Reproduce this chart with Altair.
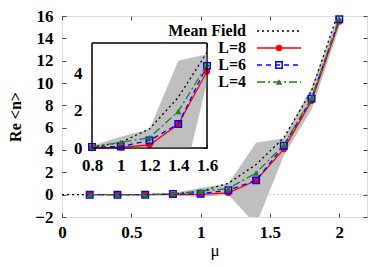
import altair as alt
import pandas as pd

# ---------------- data ----------------
mu = [0.2, 0.4, 0.6, 0.8, 1.0, 1.2, 1.4, 1.6, 1.8, 2.0]
mf_mu = [0.0, 0.2, 0.4, 0.6, 0.8, 1.0, 1.2, 1.4, 1.6, 1.8, 2.0]
mf_val = [0.0, 0.0, 0.0, 0.01, 0.05, 0.3, 1.02, 2.7, 5.1, 9.3, 16.6]
l8_val = [0.0, 0.0, 0.0, 0.0, 0.03, 0.16, 1.27, 4.08, 8.4, 15.5]
l6_val = [0.0, 0.0, 0.0, 0.05, 0.08, 0.4, 1.28, 4.38, 8.6, 15.7]
l4_val = [0.0, 0.0, 0.0, 0.06, 0.3, 0.55, 1.95, 4.45, 8.65, 15.75]

band_mu = [0.8, 1.0, 1.2, 1.4, 1.6, 1.8, 2.0]
band_lo = [-0.05, -0.2, 0.0, -2.7, 3.5, 7.6, 15.0]
band_hi = [0.15, 0.6, 1.0, 4.65, 5.05, 9.6, 16.3]

# band as seen inside the inset (cut at its bottom edge)
inset_band_mu = [0.8, 1.0, 1.2, 1.4, 1.49, 1.6]
inset_band_lo = [0.0, 0.0, 0.0, 0.0, 0.0, 3.5]
inset_band_hi = [0.12, 0.6, 1.0, 4.65, 4.82, 5.0]

series_names = ["Mean Field", "L=8", "L=6", "L=4"]
series_colors = ["#000000", "#ff0000", "#0000ff", "#1e7d1e"]

x_ticks = [0, 0.5, 1, 1.5, 2]
y_ticks = [-2, 0, 2, 4, 6, 8, 10, 12, 14, 16]
x_domain = [0, 2.2]
y_domain = [-2, 16]

inset_x_ticks = [0.8, 1, 1.2, 1.4, 1.6]
inset_y_ticks = [0, 2, 4]
inset_x_domain = [0.8, 1.6]
inset_y_domain = [0, 5.6]

FONT = "Liberation Serif"
W, H = 305, 201

df_mf = pd.DataFrame({"mu": mf_mu, "v": mf_val})
df_l8 = pd.DataFrame({"mu": mu, "v": l8_val})
df_l6 = pd.DataFrame({"mu": mu, "v": l6_val})
df_l4 = pd.DataFrame({"mu": mu, "v": l4_val})
df_band = pd.DataFrame({"mu": band_mu, "lo": band_lo, "hi": band_hi})
df_iband = pd.DataFrame({"mu": inset_band_mu, "lo": inset_band_lo, "hi": inset_band_hi})


def inset_df(df):
    return df[(df["mu"] >= inset_x_domain[0] - 1e-9) & (df["mu"] <= inset_x_domain[1] + 1e-9)]


lab = dict(labelFont=FONT, labelFontSize=17, labelFontWeight="bold", labelColor="black",
           labelFlush=False, labelOverlap=False, domain=False, grid=False,
           tickColor="#444444", tickSize=4)

main_xs = alt.Scale(domain=x_domain, nice=False, zero=False)
main_ys = alt.Scale(domain=y_domain, nice=False, zero=False)
main_xa = alt.Axis(values=x_ticks, labelExpr="'' + datum.value", offset=-4, labelPadding=7,
                   title="μ", titleFont=FONT, titleFontSize=17, titleFontWeight="normal",
                   titleColor="black", titlePadding=2, orient="bottom", **lab)
main_ya = alt.Axis(values=y_ticks, offset=-4, labelPadding=9, title="Re <n>", titleFont=FONT,
                   titleFontSize=16, titleFontWeight="bold", titleColor="black",
                   titlePadding=11, orient="left", **lab)
mirror_xa = alt.Axis(values=x_ticks, labels=False, offset=-4, title="", orient="top",
                     domain=False, grid=False, tickColor="#444444", tickSize=4)
mirror_ya = alt.Axis(values=y_ticks, labels=False, offset=-4, title="", orient="right",
                     domain=False, grid=False, tickColor="#444444", tickSize=4)

ins_xs = alt.Scale(domain=inset_x_domain, range=[30, 145], nice=False, zero=False)
ins_ys = alt.Scale(domain=inset_y_domain, range=[132, 27], nice=False, zero=False)
ins_xa = alt.Axis(values=inset_x_ticks, labelExpr="'' + datum.value", offset=-73,
                  labelPadding=9, title="", orient="bottom", **lab)
ins_ya = alt.Axis(values=inset_y_ticks, offset=-34, labelPadding=10, title="",
                  orient="left", **lab)
ins_mxa = alt.Axis(values=inset_x_ticks, labels=False, offset=-31, title="", orient="top",
                   domain=False, grid=False, tickColor="#222222", tickSize=4)
ins_mya = alt.Axis(values=inset_y_ticks, labels=False, offset=-164, title="", orient="right",
                   domain=False, grid=False, tickColor="#222222", tickSize=4)


def series(df_mf_, df8, df6, df4, xs, ys, xa, ya, clip):
    X = lambda f: alt.X(f, type="quantitative", scale=xs, axis=xa, title="")
    Y = lambda f: alt.Y(f, type="quantitative", scale=ys, axis=ya, title="")
    layers = [
        alt.Chart(df_mf_).mark_line(color=series_colors[0], strokeDash=[2, 3], strokeWidth=1.3,
                                    clip=clip).encode(x=X("mu"), y=Y("v")),
        alt.Chart(df8).mark_line(color=series_colors[1], strokeWidth=1.3, clip=clip)
        .encode(x=X("mu"), y=Y("v")),
        alt.Chart(df8).mark_point(shape="circle", filled=True, size=40, opacity=1,
                                  color=series_colors[1]).encode(x=X("mu"), y=Y("v")),
        alt.Chart(df6).mark_line(color=series_colors[2], strokeWidth=1.3, strokeDash=[5, 4],
                                 clip=clip).encode(x=X("mu"), y=Y("v")),
        alt.Chart(df6).mark_point(shape="square", filled=False, size=42, strokeWidth=1.5,
                                  opacity=1, color=series_colors[2]).encode(x=X("mu"), y=Y("v")),
        alt.Chart(df4).mark_line(color=series_colors[3], strokeWidth=1.3, strokeDash=[8, 3, 2, 3],
                                 clip=clip).encode(x=X("mu"), y=Y("v")),
        alt.Chart(df4).mark_point(shape="triangle-up", filled=True, size=40, opacity=1,
                                  color=series_colors[3]).encode(x=X("mu"), y=Y("v")),
    ]
    return layers


# ---------------- main panel ----------------
MX = lambda f: alt.X(f, type="quantitative", scale=main_xs, axis=main_xa, title="μ")
MY = lambda f: alt.Y(f, type="quantitative", scale=main_ys, axis=main_ya, title="Re <n>")

zero_rule = alt.Chart(pd.DataFrame({"z": [0]})).mark_rule(
    color="#cccccc", strokeDash=[2, 2], strokeWidth=1).encode(y=MY("z"))
band = alt.Chart(df_band).mark_area(color="#bfbfbf", opacity=1, clip=True).encode(
    x=MX("mu"), y=MY("lo"), y2="hi")

main_core = alt.layer(zero_rule, band,
                      *series(df_mf, df_l8, df_l6, df_l4, main_xs, main_ys,
                              main_xa, main_ya, True))
mirror = alt.Chart(df_l8).mark_point(opacity=0).encode(
    x=alt.X("mu", type="quantitative", scale=main_xs, axis=mirror_xa, title=""),
    y=alt.Y("v", type="quantitative", scale=main_ys, axis=mirror_ya, title=""))
main = alt.layer(main_core, mirror).resolve_axis(x="independent", y="independent")

# ---------------- inset ----------------
frame_df = pd.DataFrame({"x0": [inset_x_domain[0]], "x1": [inset_x_domain[1]],
                         "y0": [inset_y_domain[0]], "y1": [inset_y_domain[1]]})
IX = lambda f: alt.X(f, type="quantitative", scale=ins_xs, axis=ins_xa, title="")
IY = lambda f: alt.Y(f, type="quantitative", scale=ins_ys, axis=ins_ya, title="")
frame = alt.Chart(frame_df).mark_rect(fill="white", stroke="black", strokeWidth=1).encode(
    x=IX("x0"), x2="x1", y=IY("y0"), y2="y1")
iband = alt.Chart(df_iband).mark_area(color="#bfbfbf", opacity=1).encode(
    x=IX("mu"), y=IY("lo"), y2="hi")
frame_top = alt.Chart(frame_df).mark_rect(fill=None, stroke="black", strokeWidth=1).encode(
    x=IX("x0"), x2="x1", y=IY("y0"), y2="y1")
inset_core = alt.layer(frame, iband,
                       *series(inset_df(df_mf), inset_df(df_l8), inset_df(df_l6),
                               inset_df(df_l4), ins_xs, ins_ys, ins_xa, ins_ya, False),
                       frame_top)
inset_mirror = alt.Chart(frame_df).mark_point(opacity=0).encode(
    x=alt.X("x0", type="quantitative", scale=ins_xs, axis=ins_mxa, title=""),
    y=alt.Y("y0", type="quantitative", scale=ins_ys, axis=ins_mya, title=""))
inset = alt.layer(inset_core, inset_mirror).resolve_axis(x="independent", y="independent")

# ---------------- legend (drawn like gnuplot's key) ----------------
one = pd.DataFrame({"a": [0]})
rows_y = [15, 32, 49, 66]
text_x, line_x0, line_x1, sym_x = 184, 195, 239, 217
dashes = [[2, 3], None, [5, 4], [8, 3, 2, 3]]
shapes = [None, "circle", "square", "triangle-up"]
legend_layers = []
for name, col, y, dash, shp in zip(series_names, series_colors, rows_y, dashes, shapes):
    legend_layers.append(alt.Chart(one).mark_text(
        align="right", baseline="middle", font=FONT, fontSize=16, fontWeight="bold",
        color="black").encode(x=alt.value(text_x), y=alt.value(y), text=alt.value(name)))
    rule_kw = dict(color=col, strokeWidth=1.3)
    if dash:
        rule_kw["strokeDash"] = dash
    legend_layers.append(alt.Chart(one).mark_rule(**rule_kw).encode(
        x=alt.value(line_x0), x2=alt.value(line_x1), y=alt.value(y)))
    if shp:
        filled = shp != "square"
        legend_layers.append(alt.Chart(one).mark_point(
            shape=shp, filled=filled, size=42 if filled else 40, strokeWidth=1.5, opacity=1,
            color=col).encode(x=alt.value(sym_x), y=alt.value(y)))

chart = alt.layer(main, inset, *legend_layers).resolve_scale(
    x="independent", y="independent").properties(
    width=W, height=H,
    autosize=alt.AutoSizeParams(type="none"),
    padding={"left": 54, "top": 8, "right": 7, "bottom": 43},
).configure_view(stroke="#555555", strokeWidth=1.2).configure(background="white")

chart.save("out.html", embed_options={"renderer": "svg", "actions": False})
